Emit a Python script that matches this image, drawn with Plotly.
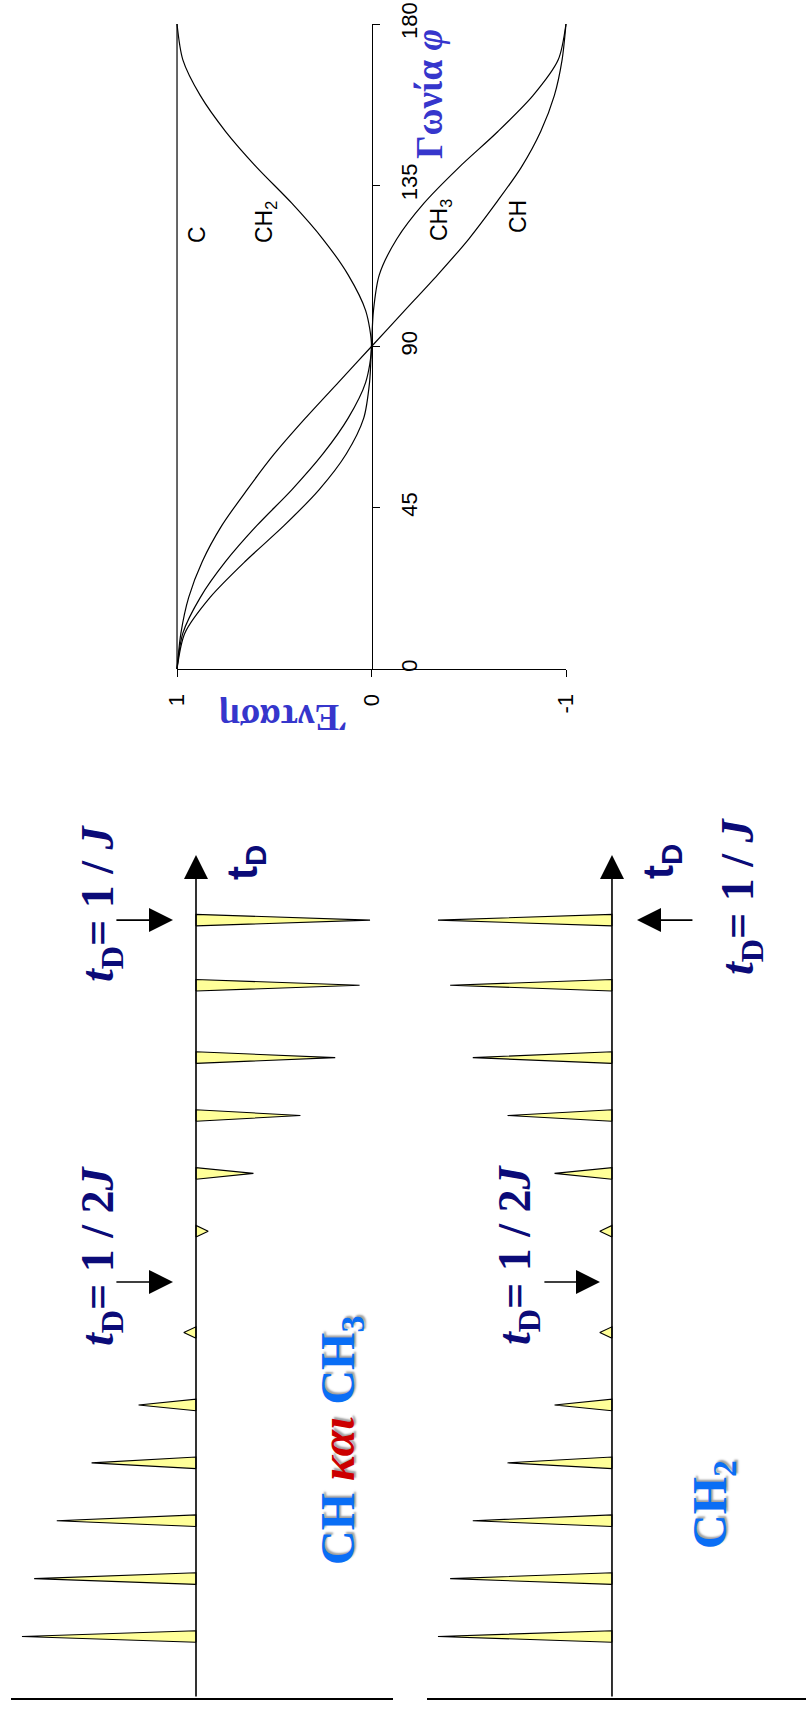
import plotly.graph_objects as go

W, H = 806, 1710

# Signal intensity of each carbon type versus the angle phi (degrees)
angle_deg = [0, 10, 20, 30, 40, 50, 60, 70, 80, 90,
             100, 110, 120, 130, 140, 150, 160, 170, 180]
int_C = [1.00, 1.00, 1.00, 1.00, 1.00, 1.00, 1.00, 1.00, 1.00, 1.00,
         1.00, 1.00, 1.00, 1.00, 1.00, 1.00, 1.00, 1.00, 1.00]
int_CH = [1.00, 0.98, 0.94, 0.87, 0.77, 0.64, 0.50, 0.34, 0.17, 0.00,
          -0.17, -0.34, -0.50, -0.64, -0.77, -0.87, -0.94, -0.98, -1.00]
int_CH2 = [1.00, 0.97, 0.88, 0.75, 0.59, 0.41, 0.25, 0.12, 0.03, 0.00,
           0.03, 0.12, 0.25, 0.41, 0.59, 0.75, 0.88, 0.97, 1.00]
int_CH3 = [1.00, 0.96, 0.83, 0.65, 0.45, 0.27, 0.13, 0.04, 0.01, 0.00,
           -0.01, -0.04, -0.13, -0.27, -0.45, -0.65, -0.83, -0.96, -1.00]

# Peak heights recorded at successive delays tD (in units of 1/J)
t_delay = [0.01, 0.09, 0.17, 0.25, 0.33, 0.43, 0.57, 0.65, 0.73, 0.81, 0.91, 1.00]
peak_CH_CH3 = [1.00, 0.93, 0.80, 0.60, 0.33, 0.07, -0.07, -0.33, -0.60, -0.80, -0.94, -1.00]
peak_CH2 = [1.00, 0.93, 0.80, 0.60, 0.33, 0.07, 0.07, 0.33, 0.60, 0.80, 0.93, 1.00]

intensity_ticks = [1, 0, -1]
angle_ticks = [0, 45, 90, 135, 180]

NAVY = "#0b0b78"
BLUE = "#0a6ef5"
RED = "#cc0000"
VIOLET = "#3636cc"
PEAK_FILL = "#ffff99"
HALF_BASE = 0.008   # half width of a peak's base, in tD units


def px(x):
    return x / W


def py(y):
    return 1 - y / H


def peak_outline(times, heights):
    xs, ys = [], []
    for t, h in zip(times, heights):
        xs += [0, h, 0, 0, None]
        ys += [t - HALF_BASE, t, t + HALF_BASE, t - HALF_BASE, None]
    return xs, ys


fig = go.Figure()

# empty trace so the frame subplot (axis lines and ticks) is built
fig.add_trace(go.Scatter(x=[], y=[], xaxis="x", yaxis="y", hoverinfo="skip"))

# curves of the intensity diagram
for vals in (int_C, int_CH, int_CH2, int_CH3):
    fig.add_trace(go.Scatter(x=vals, y=angle_deg, mode="lines",
                             line=dict(color="black", width=1.2,
                                       shape="spline", smoothing=0.8),
                             xaxis="x2", yaxis="y2", hoverinfo="skip"))

# spectra at increasing delay
for heights, xa, ya in ((peak_CH_CH3, "x3", "y3"), (peak_CH2, "x4", "y4")):
    xs, ys = peak_outline(t_delay, heights)
    fig.add_trace(go.Scatter(x=xs, y=ys, mode="lines", fill="toself",
                             fillcolor=PEAK_FILL,
                             line=dict(color="black", width=1.1),
                             xaxis=xa, yaxis=ya, hoverinfo="skip"))

tickfont = dict(family="Liberation Sans", size=22, color="black")
blank_axis = dict(showgrid=False, zeroline=False, showticklabels=False,
                  ticks="", automargin=False)

fig.update_layout(
    width=W, height=H,
    margin=dict(l=0, r=0, t=0, b=0, pad=0, autoexpand=False),
    paper_bgcolor="white", plot_bgcolor="rgba(0,0,0,0)", showlegend=False,
    xaxis=dict(domain=[px(177), px(566)], range=[1, -1], anchor="y",
               showline=True, linecolor="black", linewidth=1.2,
               ticks="outside", ticklen=7, tickwidth=1.2, tickcolor="black",
               tickvals=intensity_ticks, ticktext=[str(v) for v in intensity_ticks],
               tickangle=-90, tickfont=tickfont, ticklabelstandoff=8,
               showgrid=False, zeroline=False, automargin=False),
    yaxis=dict(domain=[py(669), py(24)], range=[0, 180], anchor="free",
               position=px(371.5), side="right",
               showline=True, linecolor="black", linewidth=1.2,
               ticks="outside", ticklen=7, tickwidth=1.2, tickcolor="black",
               tickvals=angle_ticks, ticktext=[str(v) for v in angle_ticks],
               tickangle=-90, tickfont=tickfont, ticklabelstandoff=11,
               showgrid=False, zeroline=False, automargin=False),
    xaxis2=dict(domain=[px(167.3), px(575.7)], range=[1.05, -1.05],
                anchor="y2", visible=False),
    yaxis2=dict(domain=[py(686.9), py(6.1)], range=[-5, 185],
                anchor="x2", visible=False),
    xaxis3=dict(domain=[px(11), px(393)], range=[1.063, -1.132], anchor="y3",
                showline=True, linecolor="black", linewidth=1.5, **blank_axis),
    yaxis3=dict(domain=[py(1698), py(855)], range=[-0.075, 1.09],
                anchor="x3", visible=False),
    xaxis4=dict(domain=[px(427), 1.0], range=[1.063, -1.115], anchor="y4",
                showline=True, linecolor="black", linewidth=1.5, **blank_axis),
    yaxis4=dict(domain=[py(1698), py(855)], range=[-0.075, 1.09],
                anchor="x4", visible=False),
)

ann = []


def arrow(xa, ya, x0, y0, x1, y1):
    ann.append(dict(x=x1, y=y1, ax=x0, ay=y0, xref=xa, yref=ya,
                    axref=xa, ayref=ya, text="", showarrow=True,
                    arrowhead=2, arrowsize=3.0, arrowwidth=1.6,
                    arrowcolor="black"))


# tD axes with arrow heads
arrow("x3", "y3", 0, -0.075, 0, 1.09)
arrow("x4", "y4", 0, -0.075, 0, 1.09)
# pointers at tD = 1/2J and tD = 1/J
arrow("x3", "y3", 0.466, 0.5, 0.132, 0.5)
arrow("x3", "y3", 0.466, 1.0, 0.132, 1.0)
arrow("x4", "y4", 0.397, 0.5, 0.069, 0.5)
arrow("x4", "y4", -0.471, 1.0, -0.144, 1.0)


def label(text, x, y, size, color="black", family="Liberation Sans",
          angle=-90, shadow=None):
    font = dict(family=family, size=size, color=color)
    if shadow:
        font["shadow"] = shadow
    ann.append(dict(text=text, x=px(x), y=py(y), xref="paper", yref="paper",
                    xanchor="center", yanchor="middle", showarrow=False,
                    textangle=angle, font=font))


serif = "Liberation Serif"
td_1J = "<b><i>t</i><sub>D</sub>= 1 / <i>J</i></b>"
td_2J = "<b><i>t</i><sub>D</sub>= 1 / 2<i>J</i></b>"
td = "<b>t<sub>D</sub></b>"

label(td_1J, 101, 903, 46, NAVY, serif)
label(td_2J, 101, 1255, 46, NAVY, serif)
label(td, 245, 862, 42, NAVY)
label(td_2J, 518, 1255, 46, NAVY, serif)
label(td, 661, 862, 42, NAVY)
label(td_1J, 741, 896, 46, NAVY, serif)

shade = "2px 2px 2px #a0a0a0"
label(f"<b><span style='color:{BLUE}'>CH </span>"
      f"<span style='color:{RED}'><i>και</i></span>"
      f"<span style='color:{BLUE}'> CH<sub>3</sub></span></b>",
      341, 1441, 48, BLUE, serif, shadow=shade)
label("<b>CH<sub>2</sub></b>", 713, 1505, 48, BLUE, serif, shadow=shade)

# intensity diagram labels
label("C", 197, 235, 23)
label("CH<sub>2</sub>", 266, 222, 23)
label("CH<sub>3</sub>", 440, 220, 23)
label("CH", 518, 217, 23)
label("<b>Γωνία <i>φ</i></b>", 430, 94, 37, VIOLET, serif)
label("<b>Ένταση</b>", 283, 718, 37, VIOLET, serif, angle=180)

fig.update_layout(annotations=ann)
fig.write_html("out.html")
